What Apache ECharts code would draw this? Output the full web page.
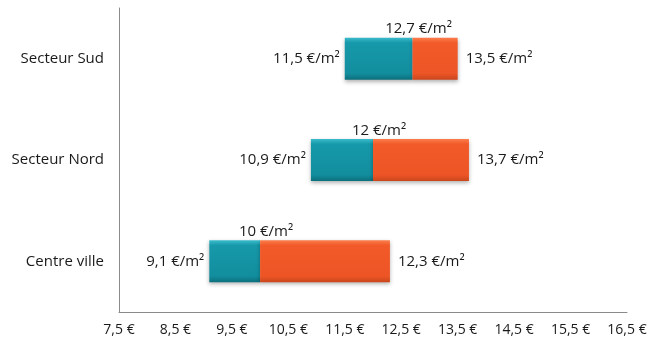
<!DOCTYPE html>
<html>
<head>
<meta charset="utf-8">
<script src="https://cdn.jsdelivr.net/npm/echarts@6/dist/echarts.min.js"></script>
<style>
  html, body { margin: 0; padding: 0; background: #fff; }
  #chart { width: 661px; height: 345px; }
</style>
</head>
<body>
<div id="chart"></div>
<script>
var categories = ["Centre ville", "Secteur Nord", "Secteur Sud"];
var lowValues = [9.1, 10.9, 11.5];
var midValues = [10, 12, 12.7];
var highValues = [12.3, 13.7, 13.5];
var tickValues = [7.5, 8.5, 9.5, 10.5, 11.5, 12.5, 13.5, 14.5, 15.5, 16.5];

function fmt(v) {
	return String(v).replace(".", ",");
}

var tealPart = [];
var orangePart = [];
for (var i = 0; i < categories.length; i++) {
	tealPart.push(+(midValues[i] - lowValues[i]).toFixed(2));
	orangePart.push(+(highValues[i] - midValues[i]).toFixed(2));
}

var font = "'Open Sans', sans-serif";
var labelStyle = { color: "#1a1a1a", fontSize: 15, fontFamily: font };

var teal = new echarts.graphic.LinearGradient(0, 0, 0, 1, [
	{ offset: 0, color: "#3cbccc" },
	{ offset: 0.12, color: "#1699aa" },
	{ offset: 0.85, color: "#128e9e" },
	{ offset: 1, color: "#0c6f7c" }
]);
var orange = new echarts.graphic.LinearGradient(0, 0, 0, 1, [
	{ offset: 0, color: "#fc7e4e" },
	{ offset: 0.12, color: "#f25a29" },
	{ offset: 0.85, color: "#ee5526" },
	{ offset: 1, color: "#c9461c" }
]);

var chart = echarts.init(document.getElementById("chart"));
chart.setOption({
	animation: false,
	grid: { left: 119, right: 34, top: 8, bottom: 33 },
	xAxis: {
		type: "value",
		min: 7.5,
		max: 16.5,
		axisLine: { show: true, lineStyle: { color: "#8a8a8a", width: 1 } },
		axisTick: { show: false },
		splitLine: { show: false },
		axisLabel: {
			customValues: tickValues,
			margin: 11,
			color: "#1a1a1a",
			fontSize: 14,
			fontFamily: font,
			formatter: function (v) { return v.toFixed(1).replace(".", ",") + " €"; }
		}
	},
	yAxis: {
		type: "category",
		data: categories,
		axisLine: { show: true, lineStyle: { color: "#8a8a8a", width: 1 } },
		axisTick: { show: false },
		axisLabel: { margin: 15, color: "#1a1a1a", fontSize: 15, fontFamily: font }
	},
	series: [
		{
			type: "bar",
			stack: "r",
			data: lowValues,
			barWidth: 42,
			itemStyle: { color: "transparent" },
			silent: true
		},
		{
			type: "bar",
			stack: "r",
			data: tealPart,
			barWidth: 42,
			itemStyle: {
				color: teal,
				shadowBlur: 4,
				shadowColor: "rgba(0,0,0,0.3)",
				shadowOffsetY: 2
			},
			label: Object.assign({
				show: true,
				position: "left",
				distance: 5,
				formatter: function (p) { return fmt(lowValues[p.dataIndex]) + " €/m²"; }
			}, labelStyle)
		},
		{
			type: "bar",
			stack: "r",
			data: orangePart,
			barWidth: 42,
			itemStyle: {
				color: orange,
				shadowBlur: 4,
				shadowColor: "rgba(0,0,0,0.3)",
				shadowOffsetY: 2
			},
			label: Object.assign({
				show: true,
				position: "right",
				distance: 8,
				formatter: function (p) { return fmt(highValues[p.dataIndex]) + " €/m²"; }
			}, labelStyle)
		},
		{
			type: "scatter",
			symbolSize: 0,
			itemStyle: { opacity: 1 },
			data: midValues.map(function (v, i) { return [v, i]; }),
			label: Object.assign({
				show: true,
				position: "top",
				distance: 22,
				offset: [6, 0],
				formatter: function (p) { return fmt(midValues[p.dataIndex]) + " €/m²"; }
			}, labelStyle),
			z: 5
		}
	]
});
</script>
</body>
</html>
